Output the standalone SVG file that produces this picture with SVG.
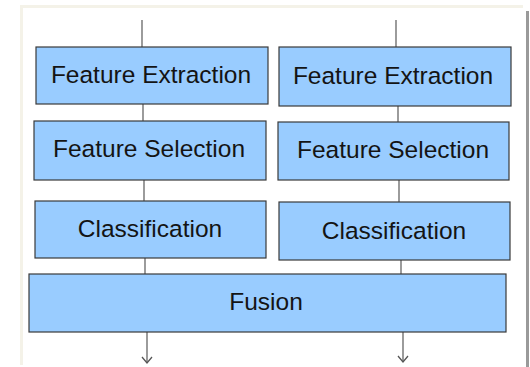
<svg xmlns="http://www.w3.org/2000/svg" width="530" height="367" viewBox="0 0 530 367">
<defs>
<style>
.box{fill:#99ccff;stroke:#3a3a3a;stroke-width:1.2}
.lbl{font-family:"Liberation Sans",Arial,sans-serif;font-size:24.5px;fill:#141414;text-anchor:middle}
.edge{stroke:#666;stroke-width:1.3;fill:none}
</style>
<marker id="arr" markerWidth="12" markerHeight="12" refX="10" refY="6" orient="auto" markerUnits="userSpaceOnUse" viewBox="0 0 12 12">
<path d="M4,1 L10,6 L4,11" fill="none" stroke="#555" stroke-width="1.3"/>
</marker>
</defs>
<rect x="0" y="0" width="530" height="367" fill="#ffffff"/>
<rect x="20" y="5" width="503" height="3" fill="#f4f2e8"/>
<rect x="20" y="5" width="3" height="360" fill="#f4f2e8"/>
<rect x="526" y="11" width="3" height="356" fill="#9a9a9a"/>
<g id="connectors">
<line class="edge" x1="142" y1="20" x2="142" y2="47"/>
<line class="edge" x1="143" y1="104" x2="143" y2="121"/>
<line class="edge" x1="144" y1="180" x2="144" y2="201"/>
<line class="edge" x1="145" y1="258" x2="145" y2="274"/>
<line class="edge" x1="147" y1="332" x2="147" y2="363" marker-end="url(#arr)"/>
<line class="edge" x1="396" y1="20" x2="396" y2="47"/>
<line class="edge" x1="398" y1="106" x2="398" y2="122"/>
<line class="edge" x1="399" y1="180" x2="399" y2="202"/>
<line class="edge" x1="401" y1="260" x2="401" y2="274"/>
<line class="edge" x1="403" y1="332" x2="403" y2="362" marker-end="url(#arr)"/>
</g>
<g id="fe1"><rect class="box" x="36" y="47" width="232" height="57"/><text class="lbl" x="151" y="83">Feature Extraction</text></g>
<g id="fs1"><rect class="box" x="34" y="121" width="232" height="59"/><text class="lbl" x="149" y="157">Feature Selection</text></g>
<g id="cl1"><rect class="box" x="35" y="201" width="231" height="57"/><text class="lbl" x="150" y="237">Classification</text></g>
<g id="fe2"><rect class="box" x="279" y="47" width="232" height="59"/><text class="lbl" x="393" y="84">Feature Extraction</text></g>
<g id="fs2"><rect class="box" x="278" y="122" width="231" height="58"/><text class="lbl" x="393" y="158">Feature Selection</text></g>
<g id="cl2"><rect class="box" x="279" y="202" width="231" height="58"/><text class="lbl" x="394" y="239">Classification</text></g>
<g id="fusion"><rect class="box" x="29" y="274" width="477" height="58"/><text class="lbl" x="266" y="310">Fusion</text></g>
</svg>
